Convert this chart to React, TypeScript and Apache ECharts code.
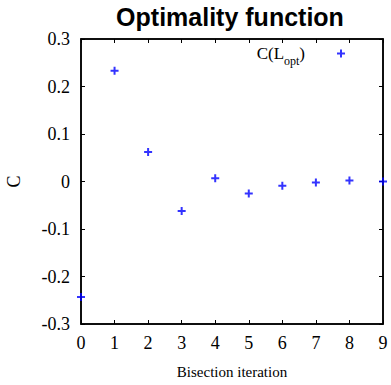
import React, { useEffect, useRef } from "react";
import * as echarts from "echarts";

const iterations = [0, 1, 2, 3, 4, 5, 6, 7, 8, 9];
const cValues = [-0.243, 0.233, 0.062, -0.062, 0.007, -0.025, -0.009, -0.002, 0.002, 0.0];
const xTicks = { min: 0, max: 9, interval: 1 };
const yTicks = { min: -0.3, max: 0.3, interval: 0.1 };
const seriesName = "C(L_opt)";
const titleText = "Optimality function";
const xName = "Bisection iteration";
const yName = "C";

const PLUS = "path://M3,0H5V3H8V5H5V8H3V5H0V3H3Z";

export default function App() {
  const ref = useRef<HTMLDivElement>(null);
  useEffect(() => {
    if (!ref.current) return;
    const chart = echarts.init(ref.current, null, { renderer: "svg" });
    const serif = "'Liberation Serif', 'DejaVu Serif', serif";
    const axisLine = { show: true, onZero: false, lineStyle: { color: "#000", width: 1.5 } };
    const tick = { show: true, inside: true, length: 4, lineStyle: { color: "#000", width: 1 } };
    const fmtY = (v: number) => {
      const r = Math.round(v * 10) / 10;
      return r === 0 ? "0" : String(r);
    };
    chart.setOption({
      animation: false,
      backgroundColor: "#fff",
      title: {
        text: titleText,
        left: 230,
        top: 4,
        padding: 0,
        textAlign: "center",
        textStyle: {
          fontFamily: "'Liberation Sans', Arial, sans-serif",
          fontWeight: "bold",
          fontSize: 25,
          color: "#000",
        },
      },
      legend: {
        right: 46,
        top: 45,
        padding: 0,
        align: "right",
        itemWidth: 8,
        itemHeight: 8,
        data: [{ name: seriesName, icon: PLUS }],
        formatter: () => "{a|C(L}{b|opt}{a|)}",
        textStyle: {
          fontFamily: serif,
          color: "#000",
          padding: [0, 27, 0, 0],
          rich: {
            a: { fontFamily: serif, fontSize: 17, color: "#000", lineHeight: 20 },
            b: { fontFamily: serif, fontSize: 12, color: "#000", verticalAlign: "bottom", lineHeight: 12, padding: [0, 0, -3, 0] },
          },
        },
      },
      grid: {
        left: 81,
        right: 8,
        top: 39,
        bottom: 61,
        show: true,
        borderColor: "#000",
        borderWidth: 1.5,
        backgroundColor: "transparent",
        containLabel: false,
        outerBoundsMode: "none",
      },
      xAxis: [
        {
          type: "value",
          min: xTicks.min,
          max: xTicks.max,
          interval: xTicks.interval,
          name: xName,
          nameLocation: "middle",
          nameGap: 40,
          nameTextStyle: { fontFamily: serif, fontSize: 15, color: "#000" },
          axisLine,
          axisTick: tick,
          axisLabel: { fontFamily: serif, fontSize: 18, color: "#000", margin: 10 },
          splitLine: { show: false },
        },
        {
          type: "value",
          position: "top",
          min: xTicks.min,
          max: xTicks.max,
          interval: xTicks.interval,
          axisLine,
          axisTick: tick,
          axisLabel: { show: false },
          splitLine: { show: false },
        },
      ],
      yAxis: [
        {
          type: "value",
          min: yTicks.min,
          max: yTicks.max,
          interval: yTicks.interval,
          name: yName,
          nameLocation: "middle",
          nameGap: 58,
          nameTextStyle: { fontFamily: serif, fontSize: 18, color: "#000" },
          axisLine,
          axisTick: tick,
          axisLabel: { fontFamily: serif, fontSize: 18, color: "#000", margin: 11, formatter: fmtY },
          splitLine: { show: false },
        },
        {
          type: "value",
          position: "right",
          min: yTicks.min,
          max: yTicks.max,
          interval: yTicks.interval,
          axisLine,
          axisTick: tick,
          axisLabel: { show: false },
          splitLine: { show: false },
        },
      ],
      series: [
        {
          name: seriesName,
          type: "scatter",
          xAxisIndex: 0,
          yAxisIndex: 0,
          symbol: PLUS,
          symbolSize: 8,
          clip: false,
          itemStyle: { color: "#0000ff" },
          data: iterations.map((x, i) => [x, cValues[i]]),
        },
      ],
    });
    return () => chart.dispose();
  }, []);
  return <div ref={ref} style={{ width: 391, height: 385, position: "absolute", left: 0, top: 0 }} />;
}
